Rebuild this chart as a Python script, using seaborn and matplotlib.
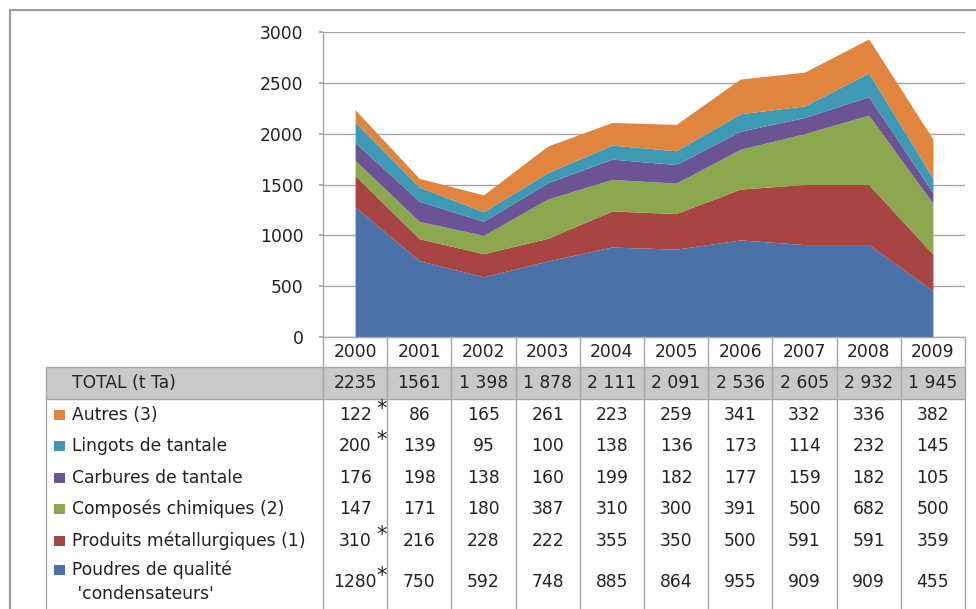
import matplotlib
matplotlib.use("Agg")
import matplotlib.pyplot as plt
import matplotlib.transforms as mtransforms
from matplotlib.lines import Line2D
from matplotlib.patches import Rectangle
import seaborn as sns

# data (t Ta)
years = [2000, 2001, 2002, 2003, 2004, 2005, 2006, 2007, 2008, 2009]
poudres = [1280, 750, 592, 748, 885, 864, 955, 909, 909, 455]
produits = [310, 216, 228, 222, 355, 350, 500, 591, 591, 359]
composes = [147, 171, 180, 387, 310, 300, 391, 500, 682, 500]
carbures = [176, 198, 138, 160, 199, 182, 177, 159, 182, 105]
lingots = [200, 139, 95, 100, 138, 136, 173, 114, 232, 145]
autres = [122, 86, 165, 261, 223, 259, 341, 332, 336, 382]
totals = ["2235", "1561", "1 398", "1 878", "2 111", "2 091", "2 536", "2 605", "2 932", "1 945"]

# table rows, top to bottom
row_labels = ["Autres (3)", "Lingots de tantale", "Carbures de tantale",
              "Composés chimiques (2)", "Produits métallurgiques (1)",
              "Poudres de qualité\n 'condensateurs'"]
row_values = [autres, lingots, carbures, composes, produits, poudres]
row_colors = ["#e0843e", "#3e9ab4", "#6b5394", "#8ca84e", "#a84442", "#4a71a8"]
starred = [True, True, False, False, True, True]  # asterisk on the 2000 value

sns.set_theme(style="white")
plt.rcParams['font.family'] = ['DejaVu Sans']
text_col = "#222222"
grid_col = "#a6a6a6"
fs_num = 12.3
fs_lab = 12.3

W, H = 976, 609
fig = plt.figure(figsize=(W / 100, H / 100), dpi=100)

def fx(px):
    return px / W

def fy(py):
    return 1 - py / H

ax = fig.add_axes([fx(323), fy(337), fx(965) - fx(323), fy(32) - fy(337)])

# stacked areas, bottom series first
x = list(range(len(years)))
ax.stackplot(x, row_values[::-1], colors=row_colors[::-1], linewidth=0, zorder=2)

ax.set_xlim(-0.5, len(years) - 0.5)
ax.set_ylim(0, 3000)
ax.set_yticks(range(0, 3001, 500))
ax.set_xticks([])
ax.yaxis.grid(True, color=grid_col, linewidth=1)
ax.set_axisbelow(True)
ax.tick_params(axis="y", length=3, color=grid_col, pad=11, labelsize=fs_num, labelcolor=text_col, left=True)
for side in ["top", "right"]:
    ax.spines[side].set_visible(False)
for side in ["left", "bottom"]:
    ax.spines[side].set_color(grid_col)
    ax.spines[side].set_linewidth(1)

# table: x follows the data scale, y in figure pixels
tr = mtransforms.blended_transform_factory(ax.transData, fig.transFigure)
ncol = len(years)
year_top, total_top, rows_top = 337, 367, 399
row_h = 31.5
bottom = 609

def hline(py, x0, x1, trans, color=grid_col, lw=1):
    fig.add_artist(Line2D([x0, x1], [fy(py), fy(py)], transform=trans, color=color, lw=lw))

def vline(xv, py0, py1, trans, color=grid_col, lw=1):
    fig.add_artist(Line2D([xv, xv], [fy(py0), fy(py1)], transform=trans, color=color, lw=lw))

# grey TOTAL band
fig.add_artist(Rectangle((fx(46), fy(rows_top)), fx(965) - fx(46), fy(total_top) - fy(rows_top),
                         transform=fig.transFigure, facecolor="#c9c9c9", edgecolor="none"))
hline(total_top, fx(46), fx(965), fig.transFigure)
hline(rows_top, fx(46), fx(965), fig.transFigure)
vline(fx(46), total_top, bottom, fig.transFigure)
for i in range(ncol + 1):
    vline(i - 0.5, year_top, bottom, tr)

for i, yr in enumerate(years):
    fig.text(i, fy(352), str(yr), transform=tr, ha="center", va="center", fontsize=fs_num, color=text_col)
    fig.text(i, fy(383), totals[i], transform=tr, ha="center", va="center", fontsize=fs_num, color=text_col)

fig.text(fx(72), fy(383), "TOTAL (t Ta)", ha="left", va="center", fontsize=fs_lab, color=text_col)

last = len(row_labels) - 1
for r, (lab, vals, col) in enumerate(zip(row_labels, row_values, row_colors)):
    yc = 582 if r == last else rows_top + row_h * (r + 0.5)
    ysw = 570 if r == last else yc
    fig.add_artist(Rectangle((fx(54), fy(ysw) - 5 / H), 11 / W, 10 / H,
                             transform=fig.transFigure, facecolor=col, edgecolor="none"))
    fig.text(fx(72), fy(yc), lab, ha="left", va="center", fontsize=fs_lab, color=text_col, linespacing=1.4)
    for i, v in enumerate(vals):
        fig.text(i, fy(yc), str(v), transform=tr, ha="center", va="center", fontsize=fs_num, color=text_col)
    if starred[r]:
        fig.text(0.42, fy(yc - 6), "*", transform=tr, ha="center", va="center", fontsize=15, color=text_col)

# outer frame of the original picture
hline(10, fx(10), 1, fig.transFigure, color="#999999", lw=1.5)
vline(fx(10), 10, bottom, fig.transFigure, color="#999999", lw=1.5)

fig.savefig("out.png", dpi=100)
